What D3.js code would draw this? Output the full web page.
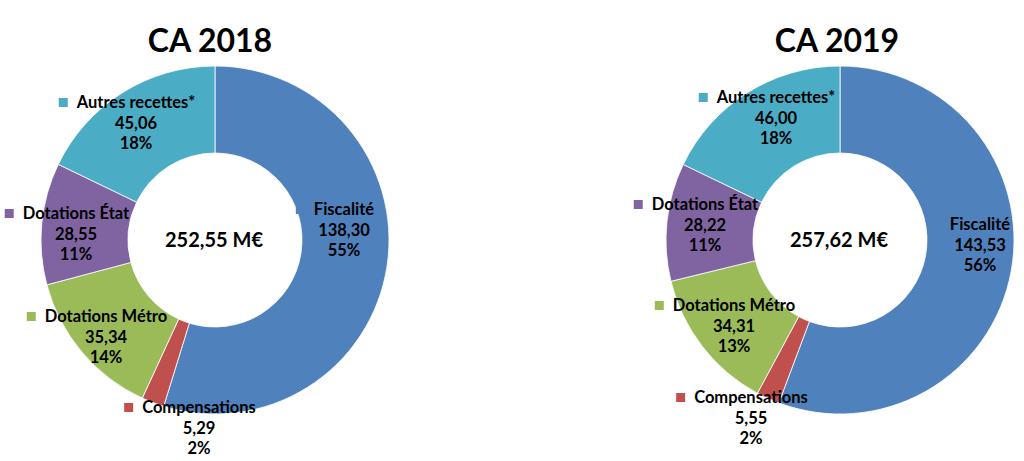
<!DOCTYPE html>
<html><head><meta charset="utf-8">
<script src="https://cdn.jsdelivr.net/npm/d3@7"></script>
<style>html,body{margin:0;padding:0;background:#fff;} svg{display:block;}</style>
</head><body>
<svg id="c" width="1024" height="461"></svg>
<script>
// ---- data ----
const categories = ["Fiscalité", "Compensations", "Dotations Métro", "Dotations État", "Autres recettes*"];
const values2018 = [138.30, 5.29, 35.34, 28.55, 45.06];
const values2019 = [143.53, 5.55, 34.31, 28.22, 46.00];
const titles = ["CA 2018", "CA 2019"];
const totals = ["252,55 M€", "257,62 M€"];
const colors = ["#4F81BD", "#C0504D", "#9BBB59", "#8064A2", "#4BACC6"];

// ---- layout ----
const charts = [
  { values: values2018, title: titles[0], total: totals[0], cx: 215, cy: 240, titleX: 210,
    labelPos: [[344,215],[199,413],[106,322],[76,219],[136,108]] },
  { values: values2019, title: titles[1], total: totals[1], cx: 840, cy: 240, titleX: 837,
    labelPos: [[980,230],[751,403],[734,311],[705,210],[776,103]] }
];
const outerR = 174, innerR = 87;
const FONT = "Lato, 'Open Sans', sans-serif";
const fmt = v => d3.format(".2f")(v).replace(".", ",");

const svg = d3.select("#c");
const pie = d3.pie().sort(null).value(d => d.v);
const arc = d3.arc().innerRadius(innerR).outerRadius(outerR);

charts.forEach(ch => {
  const data = categories.map((c, i) => ({ c, v: ch.values[i], i }));
  const sum = d3.sum(ch.values);
  const g = svg.append("g").attr("transform", `translate(${ch.cx},${ch.cy})`);
  g.selectAll("path").data(pie(data)).join("path")
    .attr("d", arc).attr("fill", d => colors[d.data.i])
    .attr("stroke", "#fff").attr("stroke-width", 0.8);

  svg.append("text").attr("x", ch.titleX).attr("y", 52).attr("text-anchor", "middle")
    .attr("font-family", FONT).attr("font-weight", 700).attr("font-size", 32)
    .attr("fill", "#000").text(ch.title);

  svg.append("text").attr("x", ch.cx - 1).attr("y", 247).attr("text-anchor", "middle")
    .attr("font-family", FONT).attr("font-weight", 700).attr("font-size", 20)
    .attr("fill", "#000").text(ch.total);

  data.forEach((d, i) => {
    const [x, y] = ch.labelPos[i];
    const lines = [d.c, fmt(d.v), Math.round(d.v / sum * 100) + "%"];
    const t = svg.append("text").attr("text-anchor", "middle")
      .attr("font-family", FONT).attr("font-weight", 700).attr("font-size", 16.5).attr("fill", "#000");
    lines.forEach((l, k) => {
      t.append("tspan").attr("x", x).attr("y", y + k * 20.5).text(l);
    });
    const w = t.select("tspan").node().getComputedTextLength();
    svg.append("rect").attr("x", x - w / 2 - 18).attr("y", y - 10).attr("width", 9).attr("height", 9)
      .attr("fill", colors[i]);
  });
});
</script>
</body></html>
